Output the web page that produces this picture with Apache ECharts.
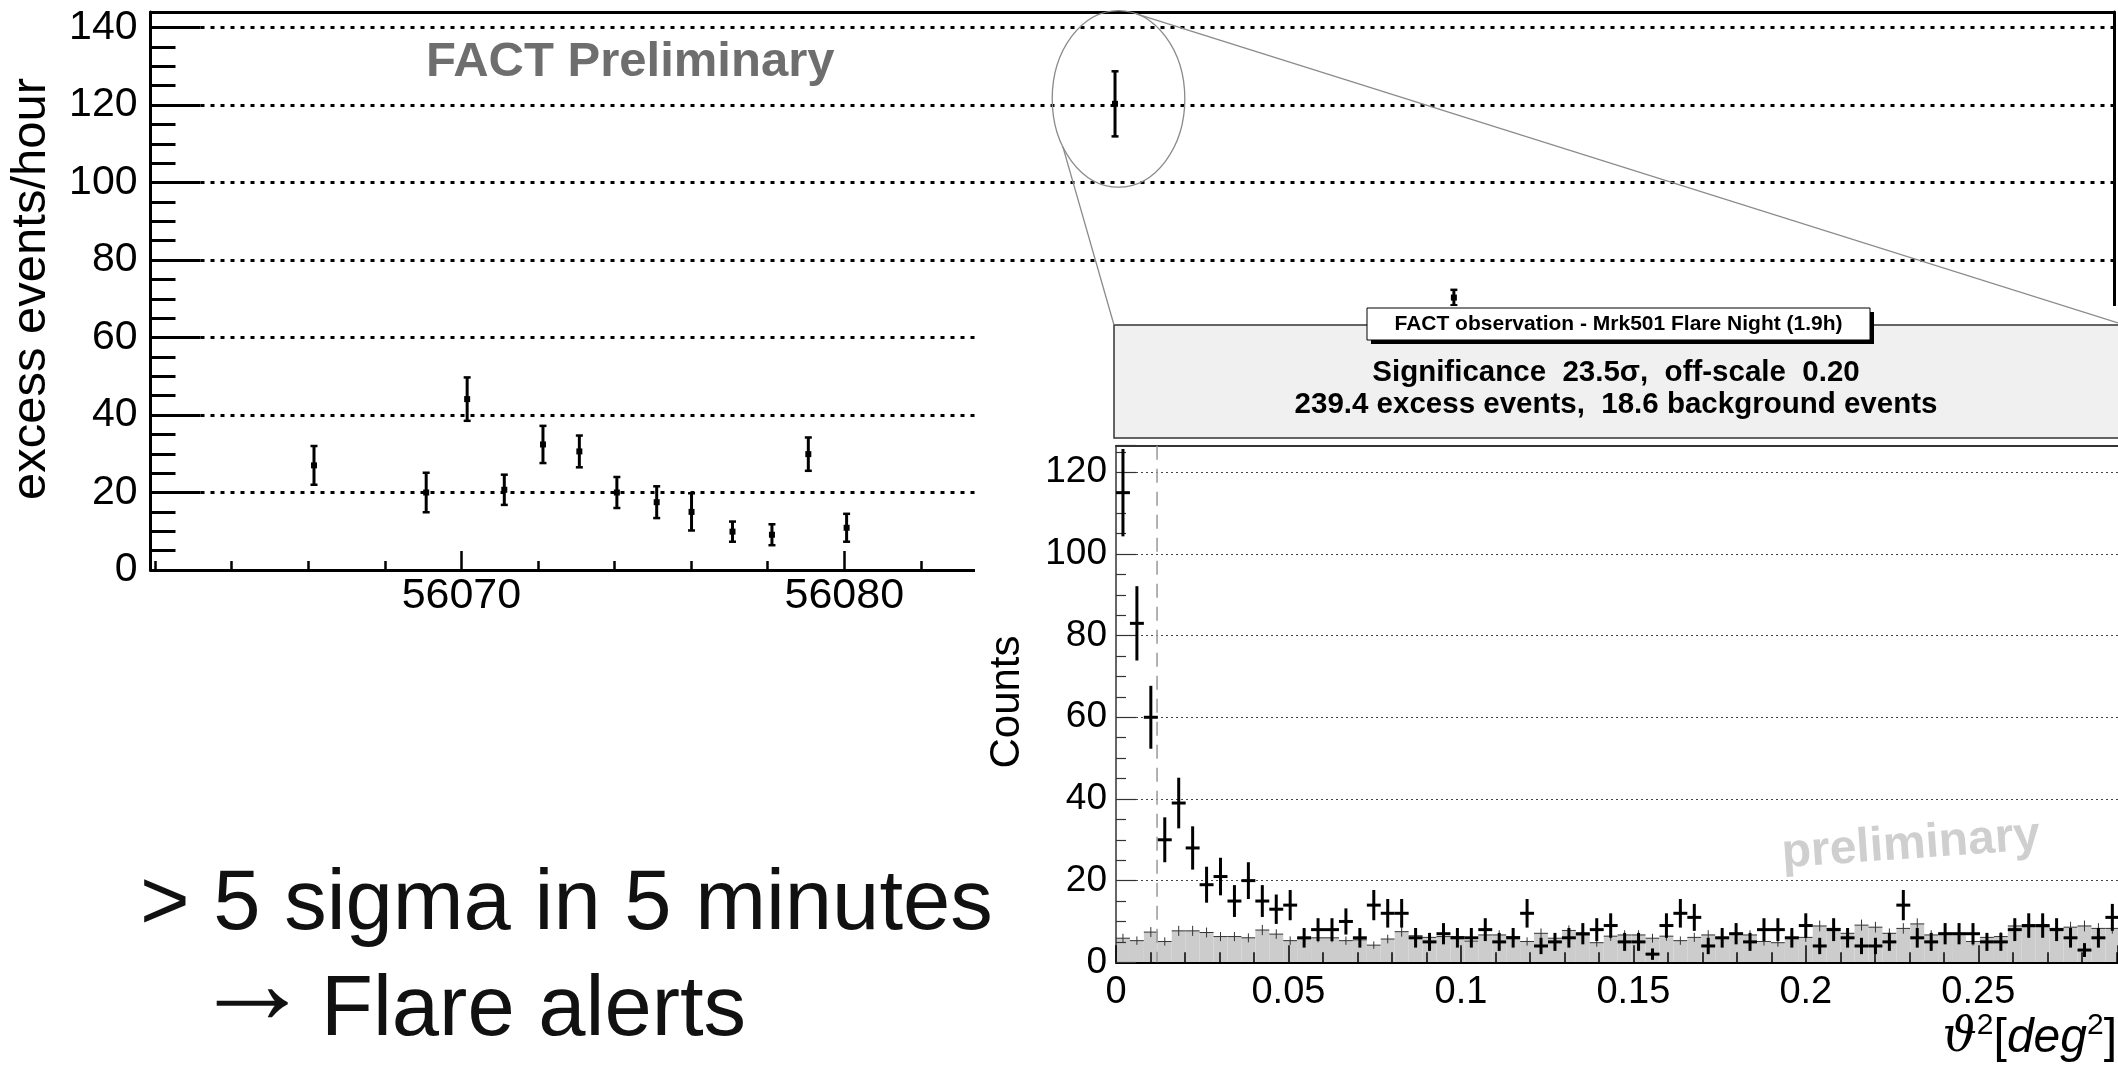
<!DOCTYPE html>
<html>
<head>
<meta charset="utf-8">
<script src="https://cdn.jsdelivr.net/npm/echarts@6/dist/echarts.min.js"></script>
<style>
html,body{margin:0;padding:0;background:#fff;}
#c{width:2118px;height:1077px;}
</style>
</head>
<body>
<div id="c"></div>
<script>
// ---------- Light curve (top chart) ----------
const topDays   = [56066.15, 56069.08, 56070.15, 56071.12, 56072.13, 56073.08, 56074.06, 56075.10, 56076.01, 56077.08, 56078.11, 56079.06, 56080.06, 56087.07, 56095.92];
const topRates  = [27.0, 20.0, 44.1, 20.7, 32.4, 30.6, 20.0, 17.5, 15.0, 9.9, 9.1, 29.9, 10.9, 120.3, 70.3];
const topErrors = [5.0, 5.1, 5.6, 3.9, 4.8, 4.1, 4.0, 4.1, 4.8, 2.6, 2.7, 4.3, 3.6, 8.4, 2.0];
const flareIndex = 13;

// ---------- Theta^2 histogram (inset) ----------
const thetaBinWidth = 0.00404;
const cutTheta2 = 0.0119;
const onCounts = [115,83,60,30,39,28,19,21,15,20,15,13,14,6,8,8,10,6,14,12,12,6,5,7,6,6,8,5,6,12,4,5,6,7,8,9,5,5,2,9,12,11,4,6,7,5,8,8,6,9,4,8,6,4,4,5,14,6,5,7,7,7,5,5,8,9,9,8,6,3,6,11];
const onErrors = [10.7,9.1,7.7,5.5,6.2,5.3,4.4,4.6,3.9,4.5,3.9,3.6,3.7,2.4,2.8,2.8,3.2,2.4,3.7,3.5,3.5,2.4,2.2,2.6,2.4,2.4,2.8,2.2,2.4,3.5,2.0,2.2,2.4,2.6,2.8,3.0,2.2,2.2,1.4,3.0,3.5,3.3,2.0,2.4,2.6,2.2,2.8,2.8,2.4,3.0,2.0,2.8,2.4,2.0,2.0,2.2,3.7,2.4,2.2,2.6,2.6,2.6,2.2,2.2,2.8,3.0,3.0,2.8,2.4,1.7,2.4,3.3];
const offScaled = [5.9,5.3,7.4,5.1,7.7,7.7,7.3,6.3,6.3,6.0,7.9,6.9,5.3,5.8,6.0,6.0,5.3,5.5,4.2,5.7,7.5,6.5,6.1,6.3,6.3,5.2,6.7,6.7,6.3,5.1,7.1,5.9,7.8,6.7,4.8,6.4,6.7,6.7,5.9,6.4,5.3,6.1,6.7,6.1,7.1,6.7,5.1,4.8,6.1,6.1,8.9,8.3,7.1,9.1,8.6,7.1,8.3,9.4,6.7,7.1,7.1,5.1,6.1,6.3,8.9,8.7,8.7,8.3,8.6,8.9,8.3,8.3];
const offErrors = [1.09,1.03,1.22,1.01,1.24,1.24,1.21,1.12,1.12,1.10,1.26,1.17,1.03,1.08,1.10,1.10,1.03,1.05,0.92,1.07,1.22,1.14,1.10,1.12,1.12,1.02,1.16,1.16,1.12,1.01,1.19,1.09,1.25,1.16,0.98,1.13,1.16,1.16,1.09,1.13,1.03,1.10,1.16,1.10,1.19,1.16,1.01,0.98,1.10,1.10,1.33,1.29,1.19,1.35,1.31,1.19,1.29,1.37,1.16,1.19,1.19,1.01,1.10,1.12,1.33,1.32,1.32,1.29,1.31,1.33,1.29,1.29];

// ---------- Texts ----------
const titleText = 'FACT observation - Mrk501 Flare Night (1.9h)';
const statLine1 = 'Significance  23.5\u03C3,  off-scale  0.20';
const statLine2 = '239.4 excess events,  18.6 background events';
const slideLine1 = '> 5 sigma in 5 minutes';
const slideArrow = '\u2192';
const slideLine2 = 'Flare alerts';

const FONT = '"Liberation Sans", Arial, Helvetica, sans-serif';

const chart = echarts.init(document.getElementById('c'), null, {renderer: 'canvas'});

function errItem(params, api) {
  const x = api.value(0), y = api.value(1), e = api.value(2);
  const c = api.coord([x, y]);
  const t = api.coord([x, y + e]);
  const b = api.coord([x, y - e]);
  const cap = 3.5;
  return {type: 'group', children: [
    {type: 'line', shape: {x1: c[0], y1: t[1], x2: c[0], y2: b[1]}, style: {stroke: '#000', lineWidth: 3}},
    {type: 'line', shape: {x1: c[0] - cap, y1: t[1], x2: c[0] + cap, y2: t[1]}, style: {stroke: '#000', lineWidth: 2.5}},
    {type: 'line', shape: {x1: c[0] - cap, y1: b[1], x2: c[0] + cap, y2: b[1]}, style: {stroke: '#000', lineWidth: 2.5}},
    {type: 'rect', shape: {x: c[0] - 3, y: c[1] - 3, width: 6, height: 6}, style: {fill: '#000'}}
  ]};
}

function bgItem(params, api) {
  const x = api.value(0), y = api.value(1), e = api.value(2);
  const h = thetaBinWidth / 2;
  const tl = api.coord([x - h, y]);
  const br = api.coord([x + h, 0]);
  const c = api.coord([x, y]);
  const t = api.coord([x, y + e]);
  const b = api.coord([x, y - e]);
  return {type: 'group', children: [
    {type: 'rect', shape: {x: tl[0], y: tl[1], width: br[0] - tl[0], height: br[1] - tl[1]}, style: {fill: '#cccccc'}},
    {type: 'line', shape: {x1: tl[0], y1: c[1], x2: br[0], y2: c[1]}, style: {stroke: '#333', lineWidth: 1}},
    {type: 'line', shape: {x1: c[0], y1: t[1], x2: c[0], y2: b[1]}, style: {stroke: '#333', lineWidth: 1}}
  ]};
}

function onItem(params, api) {
  const x = api.value(0), y = api.value(1), e = api.value(2);
  const h = thetaBinWidth / 2;
  const l = api.coord([x - h, y]);
  const r = api.coord([x + h, y]);
  const t = api.coord([x, y + e]);
  const b = api.coord([x, y - e]);
  return {type: 'group', children: [
    {type: 'line', shape: {x1: l[0], y1: l[1], x2: r[0], y2: r[1]}, style: {stroke: '#000', lineWidth: 3}},
    {type: 'line', shape: {x1: t[0], y1: t[1], x2: b[0], y2: b[1]}, style: {stroke: '#000', lineWidth: 3}}
  ]};
}

function cutItem(params, api) {
  const x = api.value(0);
  const t = api.coord([x, 126.5]);
  const b = api.coord([x, 0]);
  return {type: 'line', shape: {x1: t[0], y1: t[1], x2: b[0], y2: b[1]},
    style: {stroke: '#999', lineWidth: 1.5, lineDash: [14, 9]}};
}

const topData = topDays.map((d, i) => [d, topRates[i], topErrors[i]]);
const onData = onCounts.map((n, i) => [(i + 0.5) * thetaBinWidth, n, onErrors[i]]);
const bgData = offScaled.map((n, i) => [(i + 0.5) * thetaBinWidth, n, offErrors[i]]);

function txt(id, x, y, text, size, opts) {
  opts = opts || {};
  return {
    type: 'text', id: id, x: x, y: y, z: opts.z || 18, rotation: opts.rotation || 0, silent: true,
    style: {
      text: text, fill: opts.color || '#000',
      fontSize: size, fontFamily: opts.family || FONT, fontWeight: opts.weight || 'normal',
      fontStyle: opts.style || 'normal',
      align: opts.align || 'center', textAlign: opts.align || 'center',
      verticalAlign: 'middle', textVerticalAlign: 'middle',
      rich: opts.rich
    }
  };
}

const option = {
  animation: false,
  backgroundColor: '#fff',
  grid: [
    {left: 150.5, top: 12, right: 4, bottom: 507, containLabel: false, outerBoundsMode: 'none'},
    {left: 1116, top: 445.7, right: 0, bottom: 114.7, containLabel: false, outerBoundsMode: 'none'}
  ],
  xAxis: [
    {gridIndex: 0, type: 'value', min: 56061.88, max: 56113.16, position: 'bottom', z: 0,
      axisLine: {show: true, onZero: false, lineStyle: {color: '#000', width: 3}},
      axisTick: {show: true, inside: true, length: 19, lineStyle: {color: '#000', width: 2.5}},
      minorTick: {show: true, splitNumber: 5, length: 9, lineStyle: {color: '#000', width: 2.5}},
      axisLabel: {show: true, fontSize: 43, fontFamily: FONT, color: '#000', margin: 5,
        showMinLabel: false, showMaxLabel: false, formatter: v => String(v)},
      splitLine: {show: false}},
    {gridIndex: 0, type: 'value', min: 56061.88, max: 56113.16, position: 'top', z: 0,
      axisLine: {show: true, onZero: false, lineStyle: {color: '#000', width: 3}},
      axisTick: {show: false}, axisLabel: {show: false}, splitLine: {show: false}},
    {gridIndex: 1, type: 'value', min: 0, max: 0.2905, interval: 0.05, position: 'bottom', z: 22,
      axisLine: {show: true, onZero: false, lineStyle: {color: '#000', width: 2}},
      axisTick: {show: true, inside: true, length: 17, lineStyle: {color: '#000', width: 1.5}},
      minorTick: {show: true, splitNumber: 5, length: 10, lineStyle: {color: '#000', width: 1.5}},
      axisLabel: {show: true, fontSize: 38, fontFamily: FONT, color: '#000', margin: 11,
        showMaxLabel: false},
      splitLine: {show: false}},
    {gridIndex: 1, type: 'value', min: 0, max: 0.2905, position: 'top', z: 22,
      axisLine: {show: true, onZero: false, lineStyle: {color: '#333', width: 2}},
      axisTick: {show: false}, axisLabel: {show: false}, splitLine: {show: false}}
  ],
  yAxis: [
    {gridIndex: 0, type: 'value', min: 0, max: 144, interval: 20, position: 'left', z: 0,
      axisLine: {show: true, onZero: false, lineStyle: {color: '#000', width: 3}},
      axisTick: {show: true, inside: true, length: 50, lineStyle: {color: '#000', width: 3}},
      minorTick: {show: true, splitNumber: 4, length: 25, lineStyle: {color: '#000', width: 3}},
      axisLabel: {show: true, fontSize: 41, fontFamily: FONT, color: '#000', margin: 13, showMaxLabel: false},
      splitLine: {show: true, lineStyle: {color: '#000', width: 3, type: [4, 6]}}},
    {gridIndex: 0, type: 'value', min: 0, max: 144, position: 'right', z: 0,
      axisLine: {show: true, onZero: false, lineStyle: {color: '#000', width: 3}},
      axisTick: {show: false}, axisLabel: {show: false}, splitLine: {show: false}},
    {gridIndex: 1, type: 'value', min: 0, max: 126.5, interval: 20, position: 'left', z: 22,
      axisLine: {show: true, onZero: false, lineStyle: {color: '#333', width: 1.5}},
      axisTick: {show: true, inside: true, length: 20, lineStyle: {color: '#333', width: 1.2}},
      minorTick: {show: true, splitNumber: 4, length: 10, lineStyle: {color: '#333', width: 1.2}},
      axisLabel: {show: true, fontSize: 37, fontFamily: FONT, color: '#000', margin: 9, showMaxLabel: false},
      splitLine: {show: true, lineStyle: {color: '#444', width: 1, type: [2, 3]}}}
  ],
  series: [
    {type: 'custom', name: 'lightcurve', coordinateSystem: 'cartesian2d', xAxisIndex: 0, yAxisIndex: 0,
      z: 5, renderItem: errItem, data: topData, silent: true},
    {type: 'custom', name: 'background', coordinateSystem: 'cartesian2d', xAxisIndex: 2, yAxisIndex: 2,
      z: 21, renderItem: bgItem, data: bgData, silent: true},
    {type: 'custom', name: 'cut', coordinateSystem: 'cartesian2d', xAxisIndex: 2, yAxisIndex: 2,
      z: 23, renderItem: cutItem, data: [[cutTheta2, 0]], silent: true},
    {type: 'custom', name: 'on', coordinateSystem: 'cartesian2d', xAxisIndex: 2, yAxisIndex: 2,
      z: 24, renderItem: onItem, data: onData, silent: true}
  ],
  graphic: [
    {type: 'rect', id: 'cover', shape: {x: 975, y: 306, width: 1143, height: 771}, style: {fill: '#fff'}, z: 10, silent: true},
    {type: 'rect', id: 'header', shape: {x: 1114, y: 325, width: 1010, height: 113}, style: {fill: '#f0f0f0', stroke: '#333', lineWidth: 1.5}, z: 15, silent: true},
    {type: 'rect', id: 'titleShadow', shape: {x: 1371, y: 312, width: 503, height: 32}, style: {fill: '#000'}, z: 16, silent: true},
    {type: 'rect', id: 'titleBox', shape: {x: 1367, y: 308, width: 503, height: 32}, style: {fill: '#fff', stroke: '#000', lineWidth: 1}, z: 17, silent: true},
    txt('title', 1618.5, 324.5, titleText, 21, {weight: 'bold'}),
    txt('stat1', 1616, 373, statLine1, 29.5, {weight: 'bold'}),
    txt('stat2', 1616, 405, statLine2, 29.5, {weight: 'bold'}),
    txt('counts', 1007, 702, 'Counts', 42, {rotation: Math.PI / 2}),
    txt('prelim', 1911, 845, 'preliminary', 48, {weight: 'bold', color: '#cfcfcf', rotation: 4 * Math.PI / 180, z: 21}),
    txt('thetaName', 2117, 1037, '{th|\u03D1}{s|2}{r|[}{i|deg}{s|2}{r|]}', 48, {align: 'right', z: 25,
      rich: {
        th: {fontFamily: '"DejaVu Serif", serif', fontStyle: 'italic', fontSize: 48, lineHeight: 52, verticalAlign: 'bottom'},
        s: {fontFamily: FONT, fontSize: 30, lineHeight: 30, verticalAlign: 'top'},
        r: {fontFamily: FONT, fontSize: 48, lineHeight: 52, verticalAlign: 'bottom'},
        i: {fontFamily: FONT, fontSize: 48, fontStyle: 'italic', lineHeight: 52, verticalAlign: 'bottom'}
      }}),
    txt('factPrelim', 426, 62, 'FACT Preliminary', 49, {weight: 'bold', color: '#6e6e6e', align: 'left', z: 3}),
    txt('yname', 31, 289, 'excess events/hour', 49, {rotation: Math.PI / 2, z: 3}),
    txt('slide1', 140, 906, slideLine1, 85, {align: 'left', color: '#111', z: 12}),
    txt('slideArrow', 192, 990, slideArrow, 120, {align: 'left', color: '#111', z: 12}),
    txt('slide2', 321, 1012, slideLine2, 85, {align: 'left', color: '#111', z: 12})
  ]
};

chart.setOption(option);

// zoom ellipse around the flare point and connecting lines to the inset
const fp = chart.convertToPixel({xAxisIndex: 0, yAxisIndex: 0}, [topDays[flareIndex], topRates[flareIndex]]);
const cx = fp[0] + 3.5, cy = fp[1] - 5, rx = 66.3, ry = 88.3;
const p1 = [cx + 0.27 * rx, cy - 0.963 * ry];
const p2 = [cx - 0.839 * rx, cy + 0.544 * ry];
chart.setOption({
  graphic: [
    {type: 'ellipse', id: 'zoomEllipse', shape: {cx: cx, cy: cy, rx: rx, ry: ry}, style: {fill: 'none', stroke: '#8a8a8a', lineWidth: 1.3}, z: 30, silent: true},
    {type: 'line', id: 'zoomLine1', shape: {x1: p1[0], y1: p1[1], x2: 2118, y2: 323}, style: {stroke: '#8a8a8a', lineWidth: 1.3}, z: 30, silent: true},
    {type: 'line', id: 'zoomLine2', shape: {x1: p2[0], y1: p2[1], x2: 1114, y2: 325}, style: {stroke: '#8a8a8a', lineWidth: 1.3}, z: 30, silent: true}
  ]
});
</script>
</body>
</html>
